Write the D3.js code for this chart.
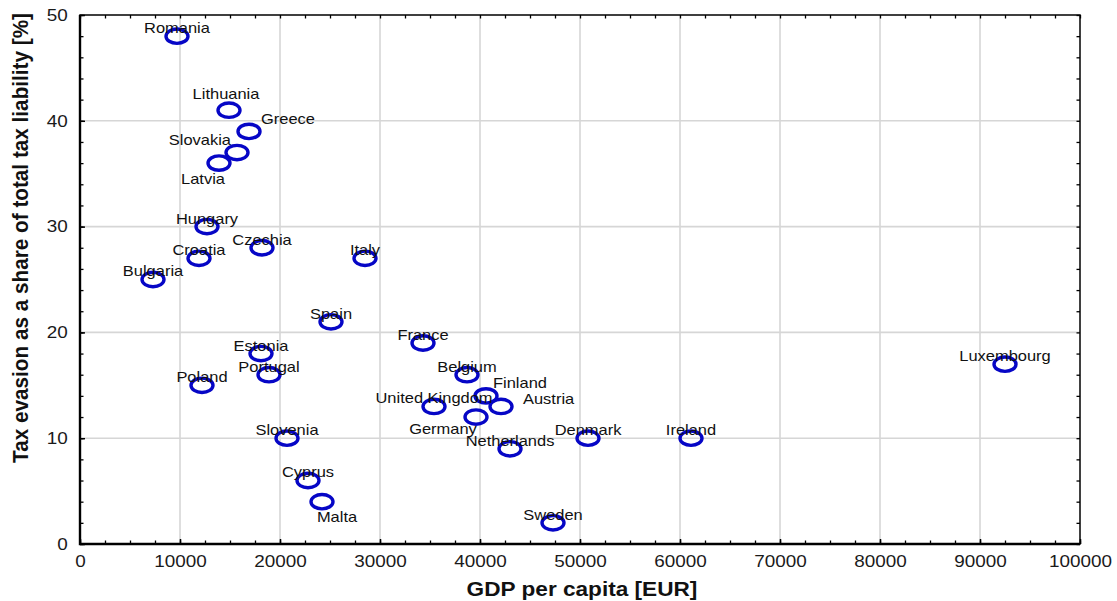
<!DOCTYPE html>
<html>
<head>
<meta charset="utf-8">
<script src="https://cdn.jsdelivr.net/npm/d3@7"></script>
<style>
  body { margin: 0; background: #fff; }
  text { font-family: "Liberation Sans", Arial, sans-serif; }
</style>
</head>
<body>
<svg id="chart" width="1117" height="601"></svg>
<script>
// EU member states: GDP per capita vs. estimated tax evasion share
const countries = [
  "Romania", "Lithuania", "Greece", "Slovakia", "Latvia", "Hungary", "Czechia",
  "Croatia", "Bulgaria", "Italy", "Spain", "Estonia", "Portugal", "Poland",
  "France", "Belgium", "Finland", "United Kingdom", "Austria", "Germany",
  "Denmark", "Netherlands", "Sweden", "Ireland", "Luxembourg", "Slovenia",
  "Cyprus", "Malta"
];
const gdpPerCapita = [
  9700, 14900, 16900, 15700, 13900, 12700, 18200,
  11900, 7300, 28500, 25100, 18100, 18900, 12200,
  34300, 38700, 40600, 35400, 42100, 39600,
  50800, 43000, 47300, 61100, 92500, 20700,
  22800, 24200
];
const taxEvasion = [
  48, 41, 39, 37, 36, 30, 28,
  27, 25, 27, 21, 18, 16, 15,
  19, 16, 14, 13, 13, 12,
  10, 9, 2, 10, 17, 10,
  6, 4
];
const xTicks = [0, 10000, 20000, 30000, 40000, 50000, 60000, 70000, 80000, 90000, 100000];
const yTicks = [0, 10, 20, 30, 40, 50];
const xTitle = "GDP per capita [EUR]";
const yTitle = "Tax evasion as a share of total tax liability [%]";

// Label placement: default is centred just above the marker
const labelPlacement = {
  "Lithuania":  { dx: -3,  dy: -16, anchor: "middle" },
  "Greece":     { dx: 12,  dy: -12, anchor: "start" },
  "Slovakia":   { dx: -6,  dy: -13, anchor: "end" },
  "Latvia":     { dx: -16, dy: 16,  anchor: "middle" },
  "Finland":    { dx: 7,   dy: -13, anchor: "start" },
  "Austria":    { dx: 22,  dy: -7,  anchor: "start" },
  "Germany":    { dx: -33, dy: 12,  anchor: "middle" },
  "Malta":      { dx: 15,  dy: 15,  anchor: "middle" }
};
const defaultPlacement = { dx: 0, dy: -8, anchor: "middle" };

const points = countries.map((c, i) => ({ name: c, gdp: gdpPerCapita[i], ev: taxEvasion[i] }));

const svg = d3.select("#chart");
const plot = { left: 80, right: 1080, top: 15, bottom: 544 };
const stretch = 1.16;   // wide lettering used throughout

const x = d3.scaleLinear().domain([0, 100000]).range([plot.left, plot.right]);
const y = d3.scaleLinear().domain([0, 50]).range([plot.bottom, plot.top]);

const xMinor = d3.range(0, 100001, 2500);
const yMinor = d3.range(0, 50.001, 2);

// grid lines
const grid = svg.append("g").attr("stroke", "#d6d6d6").attr("stroke-width", 1.6);
grid.selectAll("line.gx").data(xTicks.slice(1, -1)).join("line")
  .attr("x1", d => x(d)).attr("x2", d => x(d))
  .attr("y1", plot.top).attr("y2", plot.bottom);
grid.selectAll("line.gy").data(yTicks.slice(1, -1)).join("line")
  .attr("x1", plot.left).attr("x2", plot.right)
  .attr("y1", d => y(d)).attr("y2", d => y(d));

// minor ticks on all four sides, pointing inward
function minorAxis(axis, vals, transform) {
  const g = svg.append("g").attr("transform", transform)
    .call(axis.tickValues(vals).tickSize(-3.5).tickFormat(""));
  g.select(".domain").remove();
  g.selectAll(".tick line").attr("stroke", "#000").attr("stroke-width", 1.3);
  return g;
}
minorAxis(d3.axisBottom(x), xMinor, `translate(0,${plot.bottom})`);
minorAxis(d3.axisTop(x), xMinor, `translate(0,${plot.top})`);
minorAxis(d3.axisLeft(y), yMinor, `translate(${plot.left},0)`);
minorAxis(d3.axisRight(y), yMinor, `translate(${plot.right},0)`);

// major labelled axes
const xAxis = svg.append("g").attr("transform", `translate(0,${plot.bottom})`)
  .call(d3.axisBottom(x).tickValues(xTicks).tickSize(-5).tickPadding(11).tickFormat(d3.format("d")));
const yAxis = svg.append("g").attr("transform", `translate(${plot.left},0)`)
  .call(d3.axisLeft(y).tickValues(yTicks).tickSize(-5).tickPadding(10.5).tickFormat(d3.format("d")));
[xAxis, yAxis].forEach(g => {
  g.select(".domain").remove();
  g.selectAll(".tick line").attr("stroke", "#000").attr("stroke-width", 1.5);
  g.selectAll(".tick text")
    .attr("fill", "#1a1a1a")
    .style("font-size", "16.3px")
    .attr("transform", `scale(${stretch},1)`);
});
xAxis.selectAll(".tick text").attr("x", 0);

// frame
svg.append("rect")
  .attr("x", plot.left).attr("y", plot.top)
  .attr("width", plot.right - plot.left).attr("height", plot.bottom - plot.top)
  .attr("fill", "none").attr("stroke", "#000").attr("stroke-width", 1.5);
svg.append("path")
  .attr("d", `M${plot.left},${plot.top}V${plot.bottom}H${plot.right}`)
  .attr("fill", "none").attr("stroke", "#000").attr("stroke-width", 2.4);

// markers
svg.append("g").selectAll("ellipse").data(points).join("ellipse")
  .attr("cx", d => x(d.gdp)).attr("cy", d => y(d.ev))
  .attr("rx", 11).attr("ry", 7.2)
  .attr("fill", "none").attr("stroke", "#0606c6").attr("stroke-width", 3.4);

// country labels
svg.append("g").selectAll("text").data(points).join("text")
  .attr("transform", d => {
    const p = labelPlacement[d.name] || defaultPlacement;
    return `translate(${x(d.gdp) + p.dx},${y(d.ev) + p.dy}) scale(${stretch},1)`;
  })
  .attr("text-anchor", d => (labelPlacement[d.name] || defaultPlacement).anchor)
  .attr("dy", "0.35em")
  .attr("fill", "#111")
  .style("font-size", "14.2px")
  .text(d => d.name);

// axis titles
svg.append("text")
  .attr("transform", `translate(582,596) scale(${stretch},1)`)
  .attr("text-anchor", "middle")
  .style("font-size", "19.5px").style("font-weight", "bold")
  .attr("fill", "#111")
  .text(xTitle);
svg.append("text")
  .attr("transform", `translate(28,238) rotate(-90) scale(1,${stretch})`)
  .attr("text-anchor", "middle")
  .attr("textLength", 450).attr("lengthAdjust", "spacingAndGlyphs")
  .style("font-size", "19.5px").style("font-weight", "bold")
  .attr("fill", "#111")
  .text(yTitle);
</script>
</body>
</html>
